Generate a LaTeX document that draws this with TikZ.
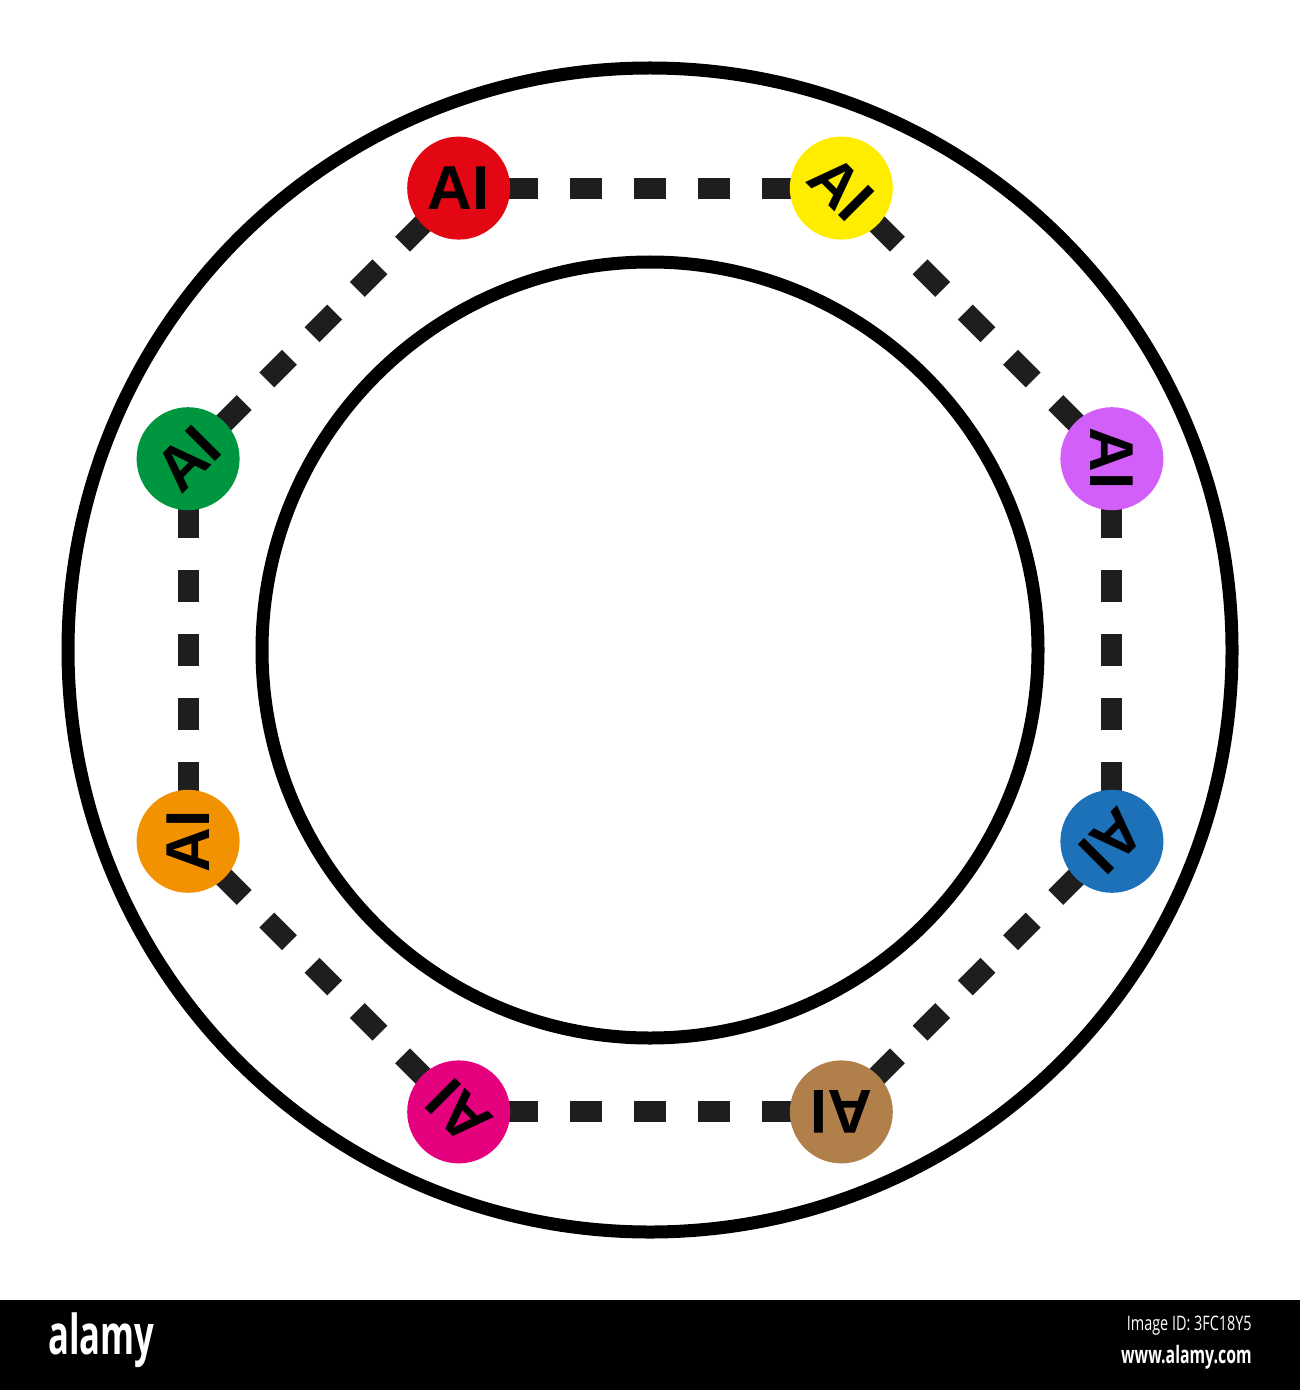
\documentclass[tikz,border=0pt]{standalone}
\usepackage{fontspec}
\setmainfont{Liberation Sans}
\newfontfamily\logofont{Open Sans}
\definecolor{aired}{HTML}{E30613}
\definecolor{aiyellow}{HTML}{FFED00}
\definecolor{aipurple}{HTML}{D35FFB}
\definecolor{aiblue}{HTML}{1D71B8}
\definecolor{aibrown}{HTML}{B07F4A}
\definecolor{aimagenta}{HTML}{E5007E}
\definecolor{aiorange}{HTML}{F39200}
\definecolor{aigreen}{HTML}{009640}
\definecolor{dashgray}{HTML}{1E1E1E}
\pgfdeclarelayer{linklayer}
\pgfdeclarelayer{paper}
\pgfsetlayers{paper,linklayer,main}
\begin{document}
\begin{tikzpicture}[x=0.5pt,y=-0.5pt,
  ainode/.style={circle,inner sep=0pt,minimum size=51.5pt,text=black,
    font=\fontsize{31}{31}\selectfont\bfseries},
  link/.style={line width=10.5pt,draw=dashgray,dash pattern=on 16pt off 16pt,dash phase=8.33pt},
  ring/.style={draw=black,line width=6.5pt}]
\begin{pgfonlayer}{paper}
\fill[white] (0,0) rectangle (1300,1390);
\end{pgfonlayer}
\useasboundingbox (0,0) rectangle (1300,1390);
% rings
\draw[ring] (650,650) circle[radius=291pt];
\draw[ring] (650,650) circle[radius=194pt];
% AI nodes
\node[ainode,fill=aired] (nr) at (458.7,188.1) {AI};
\node[ainode,fill=aiyellow,rotate=-45] (ny) at (841.3,188.1) {AI};
\node[ainode,fill=aipurple,rotate=-90] (np) at (1111.9,458.7) {AI};
\node[ainode,fill=aiblue,rotate=-135] (nb) at (1111.9,841.3) {AI};
\node[ainode,fill=aibrown,rotate=180] (nbr) at (841.3,1111.9) {AI};
\node[ainode,fill=aimagenta,rotate=135] (nm) at (458.7,1111.9) {AI};
\node[ainode,fill=aiorange,rotate=90] (no) at (188.1,841.3) {AI};
\node[ainode,fill=aigreen,rotate=45] (ng) at (188.1,458.7) {AI};
% dashed links behind nodes
\begin{pgfonlayer}{linklayer}
\draw[link] (nr.center) -- (ny.center);
\draw[link] (ny.center) -- (np.center);
\draw[link] (np.center) -- (nb.center);
\draw[link] (nb.center) -- (nbr.center);
\draw[link] (nbr.center) -- (nm.center);
\draw[link] (nm.center) -- (no.center);
\draw[link] (no.center) -- (ng.center);
\draw[link] (ng.center) -- (nr.center);
\end{pgfonlayer}
% banner
\fill[black] (0,1300) rectangle (1300,1390);
\node[anchor=west,text=white,inner sep=0pt,font=\logofont\bfseries\fontsize{27.5}{27.5}\selectfont] (logo) at (48,1340) {\scalebox{0.63}[1]{alamy}};
\node[anchor=east,text=white,inner sep=0pt,font=\logofont\fontsize{10}{10}\selectfont] (imgid) at (1252,1326) {\scalebox{0.72}[1]{Image ID: 3FC18Y5}};
\node[anchor=east,text=white,inner sep=0pt,font=\logofont\bfseries\fontsize{12}{12}\selectfont] (www) at (1252,1357) {\scalebox{0.66}[1]{www.alamy.com}};
\end{tikzpicture}
\end{document}
